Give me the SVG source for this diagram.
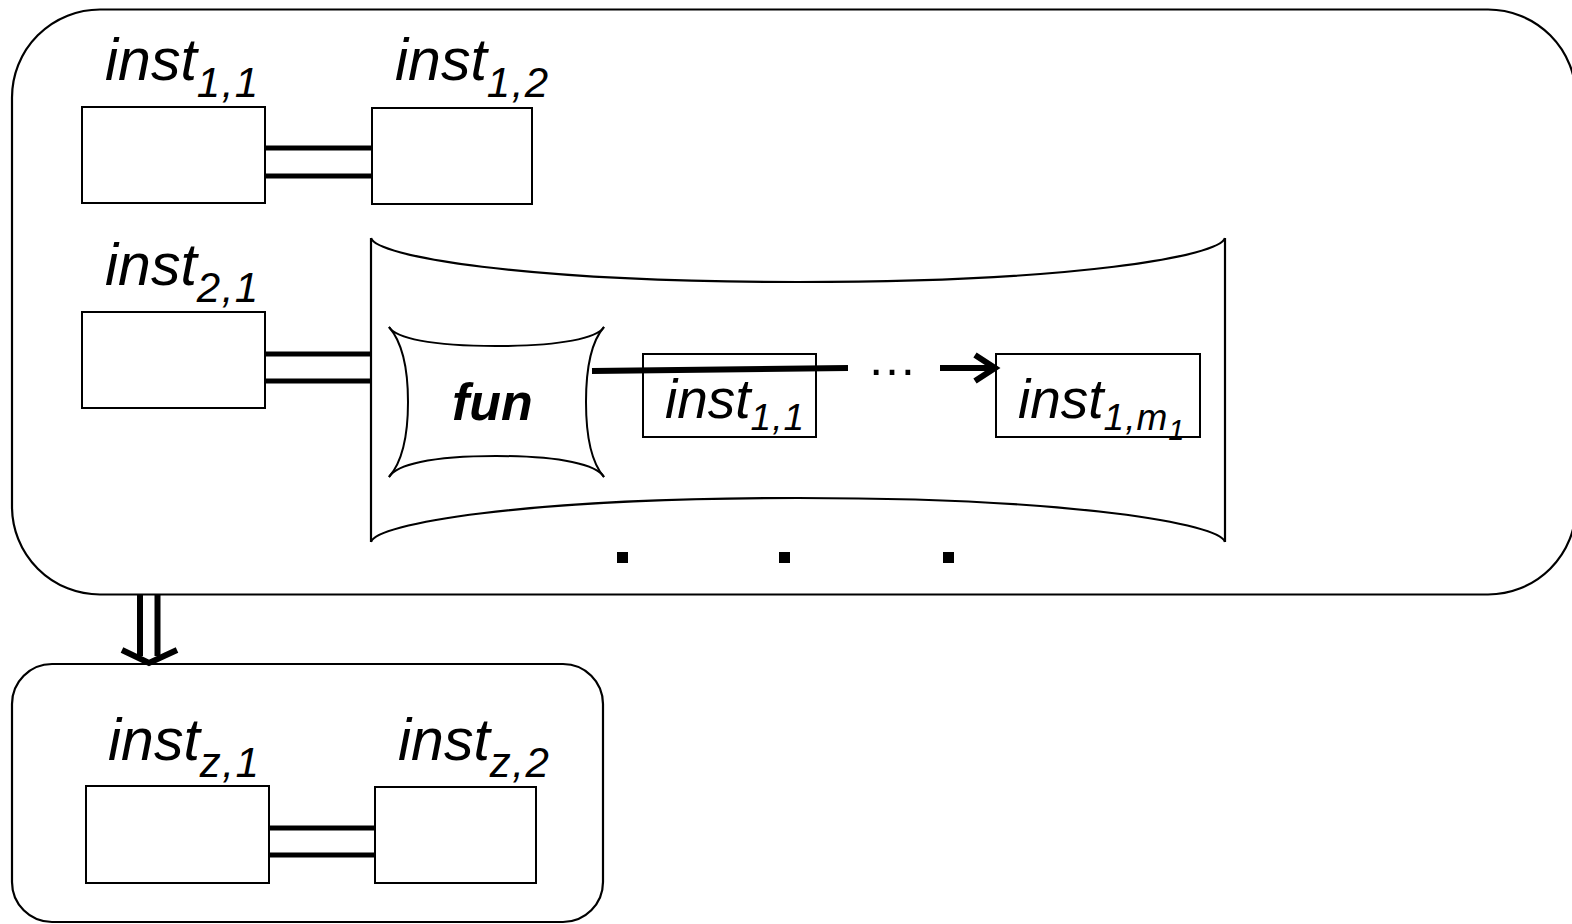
<svg xmlns="http://www.w3.org/2000/svg" width="1572" height="924" viewBox="0 0 1572 924">
<style>
.frame{fill:none;stroke:#000;stroke-width:2.2}
.box{fill:#fff;stroke:#000;stroke-width:2}
.lbl{font-family:"Liberation Sans",Arial,sans-serif;font-style:italic;fill:#000}
.big{font-size:59px}
.sub{font-size:42px;letter-spacing:1.5px}
.mid{font-size:55px}
.msub{font-size:37px;letter-spacing:1px}
.ssub{font-size:29px}
.link{stroke:#000;stroke-width:5;fill:none}
.arr{stroke:#000;stroke-width:6;fill:none;stroke-linejoin:miter}
</style>
<rect width="1572" height="924" fill="#fff"/>

<g id="outer">
<rect class="frame" x="12" y="9.5" width="1564" height="585" rx="88" ry="88"/>
</g>

<g id="inst11">
<rect class="box" x="82" y="107" width="183" height="96"/>
<text class="lbl big" x="105" y="80">inst<tspan class="sub" dy="17">1,1</tspan></text>
</g>
<g id="inst12">
<rect class="box" x="372" y="108" width="160" height="96"/>
<text class="lbl big" x="395" y="80">inst<tspan class="sub" dy="17">1,2</tspan></text>
</g>
<g id="inst21">
<rect class="box" x="82" y="312" width="183" height="96"/>
<text class="lbl big" x="105" y="285">inst<tspan class="sub" dy="17">2,1</tspan></text>
</g>

<g id="barrel">
<path class="frame" d="M371,238 L371,542 M1225,238 L1225,542"/>
<path class="frame" d="M371,238 C376,256 520,282 798,282 C1076,282 1220,256 1225,238"/>
<path class="frame" d="M371,542 C376,524 520,498 798,498 C1076,498 1220,524 1225,542"/>
</g>

<g id="fun">
<path class="frame" style="stroke-width:2" d="M389,327 C396,338 430,346 496,346 C562,346 597,338 604,327"/>
<path class="frame" style="stroke-width:2" d="M389,477 C396,465 430,456 496,456 C562,456 597,465 604,477"/>
<path class="frame" style="stroke-width:2" d="M389,327 C403,343 408,370 408,402 C408,434 403,461 389,477"/>
<path class="frame" style="stroke-width:2" d="M604,327 C590,343 586,370 586,402 C586,434 590,461 604,477"/>
<text class="lbl" x="452" y="420" style="font-size:52px;font-weight:bold">fun</text>
</g>

<g id="inner11">
<rect class="box" x="643" y="354" width="173" height="83"/>
<text class="lbl mid" x="665" y="418">inst<tspan class="msub" dy="12">1,1</tspan></text>
</g>
<g id="inner1m">
<rect class="box" x="996" y="354" width="204" height="83"/>
<text class="lbl mid" x="1018" y="418">inst<tspan class="msub" dy="12">1,m</tspan><tspan class="ssub" dy="10">1</tspan></text>
</g>

<g id="dots">
<rect x="617" y="552" width="11" height="11" fill="#000"/>
<rect x="779" y="552" width="11" height="11" fill="#000"/>
<rect x="943" y="552" width="11" height="11" fill="#000"/>
</g>

<g id="instz1">
<rect class="frame" x="12" y="664" width="591" height="258" rx="40" ry="40"/>
<rect class="box" x="86" y="786" width="183" height="97"/>
<text class="lbl big" x="108" y="760">inst<tspan class="sub" dy="17">z,1</tspan></text>
</g>
<g id="instz2">
<rect class="box" x="375" y="787" width="161" height="96"/>
<text class="lbl big" x="398" y="760">inst<tspan class="sub" dy="17">z,2</tspan></text>
</g>

<g id="connectors">
<line class="link" x1="265" y1="148" x2="372" y2="148"/>
<line class="link" x1="265" y1="176" x2="372" y2="176"/>
<line class="link" x1="265" y1="354" x2="371" y2="354"/>
<line class="link" x1="265" y1="381" x2="371" y2="381"/>
<line class="link" x1="269" y1="828" x2="375" y2="828"/>
<line class="link" x1="269" y1="855" x2="375" y2="855"/>
<line class="arr" x1="592" y1="371" x2="848" y2="368"/>
<text class="lbl" x="867" y="375" style="font-style:normal;font-size:50px">…</text>
<line class="arr" x1="940" y1="368" x2="992" y2="368"/>
<polyline class="arr" points="975,355 995,368 975,381"/>
<line class="arr" x1="140" y1="595" x2="140" y2="656"/>
<line class="arr" x1="157.5" y1="595" x2="157.5" y2="656"/>
<polyline class="arr" points="122,650 149,663 177,650"/>
</g>
</svg>
